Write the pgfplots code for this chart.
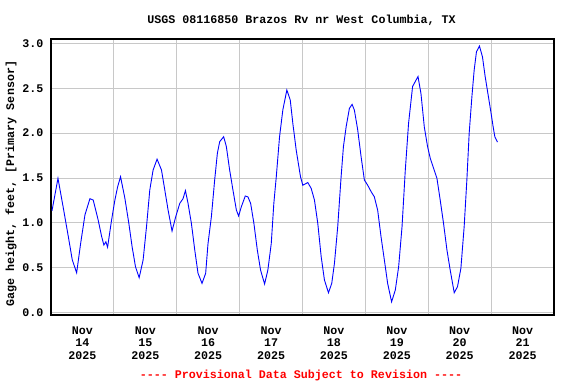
\documentclass[border=0pt]{standalone}
\usepackage{pgfplots}
\pgfplotsset{compat=1.18}
\usepackage{fontspec}
\setmainfont{Liberation Mono}[Ligatures=TeXOff]
\newcommand{\usgsfont}{\fontsize{11.67bp}{12.7bp}\selectfont\bfseries}
\definecolor{gridgray}{RGB}{200,200,200}
\definecolor{lineblue}{RGB}{0,0,255}
\begin{document}
\begin{tikzpicture}[x=1bp,y=1bp]
\useasboundingbox (-51,-69) rectangle (525,315);
\begin{axis}[
  at={(0,0)}, anchor=south west,
  scale only axis, width=503bp, height=276bp,
  xmin=0, xmax=8, ymin=-0.025, ymax=3.048,
  axis line style={black, line width=1.3bp},
  /pgf/number format/assume math mode=true,
  ytick={0,0.5,1,1.5,2,2.5,3},
  yticklabel style={/pgf/number format/fixed, /pgf/number format/fixed zerofill, /pgf/number format/precision=1, font=\usgsfont, xshift=-4bp},
  xtick={0.5,1.5,2.5,3.5,4.5,5.5,6.5,7.5},
  xticklabels={{Nov\\14\\2025},{Nov\\15\\2025},{Nov\\16\\2025},{Nov\\17\\2025},{Nov\\18\\2025},{Nov\\19\\2025},{Nov\\20\\2025},{Nov\\21\\2025}},
  xticklabel style={align=center, font=\usgsfont, yshift=-8bp},
  minor xtick={1,2,3,4,5,6,7},
  xminorgrids=true, ymajorgrids=true, xmajorgrids=false,
  grid style={gridgray, line width=1bp},
  minor grid style={gridgray, line width=1bp},
  major tick length=0pt, minor tick length=0pt,
  tick style={draw=none},
]
\addplot[lineblue, line width=0.9bp] coordinates {
(0.016,1.136) (0.111,1.497) (0.195,1.17) (0.275,0.85) (0.338,0.59) (0.408,0.445)
(0.471,0.77) (0.540,1.09) (0.619,1.27) (0.671,1.255) (0.751,1.03) (0.805,0.85)
(0.841,0.754) (0.873,0.79) (0.900,0.73) (0.963,1.03) (1.016,1.255) (1.059,1.40)
(1.106,1.515) (1.175,1.274) (1.238,0.995) (1.290,0.735) (1.344,0.512) (1.402,0.39)
(1.465,0.587) (1.519,0.958) (1.571,1.366) (1.624,1.589) (1.687,1.71) (1.757,1.59)
(1.810,1.366) (1.862,1.144) (1.925,0.91) (1.984,1.07) (2.048,1.218) (2.100,1.27)
(2.138,1.36) (2.179,1.22) (2.233,0.995) (2.286,0.70) (2.338,0.44) (2.402,0.327)
(2.460,0.44) (2.497,0.77) (2.551,1.07) (2.603,1.478) (2.646,1.775) (2.683,1.905)
(2.746,1.96) (2.789,1.85) (2.841,1.59) (2.894,1.366) (2.948,1.144) (2.984,1.077)
(3.027,1.18) (3.090,1.30) (3.132,1.29) (3.175,1.218) (3.227,0.995) (3.281,0.70)
(3.333,0.475) (3.397,0.32) (3.449,0.475) (3.503,0.77) (3.544,1.218) (3.583,1.515)
(3.635,1.96) (3.687,2.257) (3.751,2.48) (3.805,2.37) (3.846,2.11) (3.900,1.81)
(3.968,1.515) (4.005,1.42) (4.059,1.44) (4.084,1.45) (4.138,1.385) (4.190,1.255)
(4.243,0.995) (4.297,0.624) (4.349,0.364) (4.413,0.223) (4.465,0.327) (4.508,0.55)
(4.560,0.958) (4.614,1.515) (4.651,1.85) (4.694,2.07) (4.746,2.276) (4.789,2.32)
(4.825,2.257) (4.878,2.035) (4.932,1.737) (4.984,1.478) (5.037,1.42) (5.090,1.35)
(5.143,1.29) (5.195,1.144) (5.249,0.846) (5.302,0.587) (5.354,0.327) (5.417,0.122)
(5.476,0.253) (5.529,0.512) (5.583,0.958) (5.635,1.59) (5.687,2.11) (5.751,2.52)
(5.837,2.63) (5.884,2.44) (5.937,2.07) (5.989,1.85) (6.032,1.72) (6.084,1.61)
(6.138,1.497) (6.190,1.255) (6.243,0.995) (6.297,0.70) (6.349,0.475) (6.413,0.223)
(6.465,0.29) (6.519,0.495) (6.571,0.958) (6.614,1.478) (6.651,2.0) (6.694,2.405)
(6.730,2.70) (6.767,2.906) (6.814,2.97) (6.862,2.85) (6.905,2.63) (6.957,2.405)
(6.995,2.24) (7.032,2.07) (7.059,1.96) (7.100,1.90)
};
\end{axis}
\node[font=\usgsfont] at (250.5,295) {USGS 08116850 Brazos Rv nr West Columbia, TX};
\node[font=\usgsfont, rotate=90] at (-40,131.5) {Gage height, feet, [Primary Sensor]};
\node[font=\usgsfont, text=red] at (250,-60) {---- Provisional Data Subject to Revision ----};
\end{tikzpicture}
\end{document}
